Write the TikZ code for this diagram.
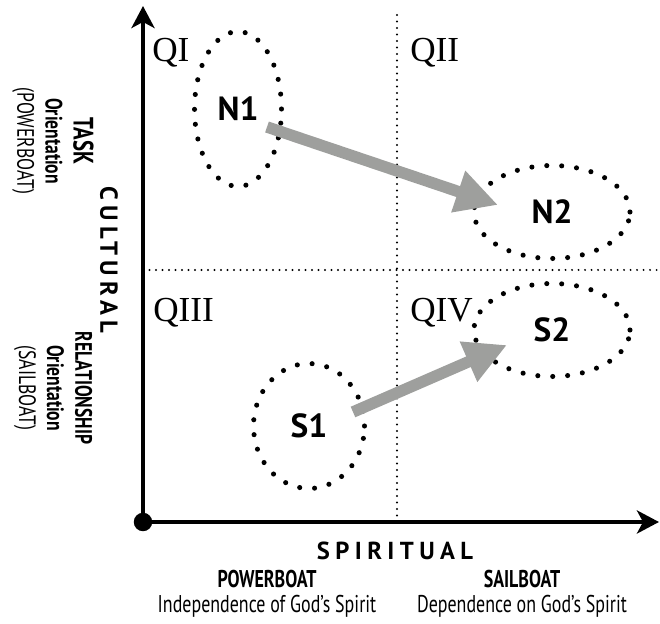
\documentclass[tikz,border=0pt]{standalone}
\usepackage{fontspec}
\setmainfont{Liberation Serif}
\newfontfamily\tagfont{PT Sans}
\newfontfamily\condfont[FakeStretch=0.74]{PT Sans}
\newfontfamily\widefont[LetterSpace=22]{PT Sans}
\usetikzlibrary{arrows.meta,shapes.geometric}
\definecolor{arrowgray}{RGB}{158,159,157}

\begin{document}
\begin{tikzpicture}[x=0.02cm,y=-0.02cm]
				\useasboundingbox (0,0) rectangle (660,624);

				% quadrant lines
				\coordinate (vtop) at (397,15);
				\coordinate (vbot) at (397,522);
				\coordinate (hleft) at (143,270);
				\coordinate (hright) at (660,270);
				\begin{scope}[line width=1.2pt, dash pattern=on 0pt off 3.7pt, line cap=round]
                    \draw (vtop) -- (vbot);
                    \draw (hleft) -- (hright);
                \end{scope}

				% axes
				\node[circle, fill, inner sep=0pt, minimum size=0.37cm] (O) at (143,522) {};
				\coordinate (ytip) at (143,6);
				\coordinate (xtip) at (659,522);
				\begin{scope}[line width=2.3pt, >={Stealth[length=4.4mm,width=4.6mm,inset=1.2mm]}]
                    \draw [->] (O.center) -- (ytip);
                    \draw [->] (O.center) -- (xtip);
                \end{scope}

				% quadrant names
				\begin{scope}[every node/.style={anchor=base west, inner sep=0pt, font=\fontsize{20}{22}\selectfont}]
                    \node (QI) at (152,62) {QI};
                    \node (QII) at (410,62) {QII};
                    \node (QIII) at (153,322) {QIII};
                    \node (QIV) at (410,322) {QIV};
                \end{scope}

				% groups
				\begin{scope}[every node/.style={ellipse, draw, line width=2.9pt, dash pattern=on 0pt off 8.5pt, line cap=round, inner sep=0pt, font=\tagfont\bfseries\fontsize{19}{21}\selectfont}]
                    \node [minimum width=1.74cm, minimum height=3.1cm] (N1) at (238,109) {N1};
                    \node [minimum width=3.12cm, minimum height=1.86cm] (N2) at (552,212) {N2};
                    \node [minimum width=3.12cm, minimum height=1.86cm] (S2) at (552,330) {S2};
                    \node [minimum width=2.22cm, minimum height=2.5cm] (S1) at (309,426) {S1};
                \end{scope}

				% moves
				\begin{scope}[draw=arrowgray, line width=0.23cm, >={Triangle[length=8.4mm,width=8.2mm]}]
                    \draw [->] ([shift={(29,18)}]N1.center) -- ([shift={(-54,-7)}]N2.center);
                    \draw [->] ([shift={(44,-14)}]S1.center) -- ([shift={(-45,15)}]S2.center);
                \end{scope}

				% axis names
				\node [rotate=-90, font=\widefont\bfseries\fontsize{14}{16}\selectfont] (cultural) at (109,260) {CULTURAL};
				\node [font=\widefont\bfseries\fontsize{14}{16}\selectfont] (spiritual) at (395,551) {SPIRITUAL};

				\begin{scope}[every node/.style={align=center, inner sep=0pt, font=\condfont\fontsize{13.8}{14.2}\selectfont}]
                    \node [rotate=-90, font=\condfont\fontsize{13.5}{16}\selectfont] (task) at (53,141) {\bfseries\fontsize{16}{16}\selectfont TASK\\\bfseries Orientation\\(POWERBOAT)};
                    \node [rotate=-90, font=\condfont\fontsize{13.5}{16}\selectfont] (relation) at (53,388) {\bfseries RELATIONSHIP\\\bfseries Orientation\\(SAILBOAT)};
                    \node (power) at (267,594) {\bfseries POWERBOAT\\Independence of God’s Spirit};
                    \node (sail) at (522,594) {\bfseries SAILBOAT\\Dependence on God’s Spirit};
                \end{scope}
			\end{tikzpicture}
\end{document}
